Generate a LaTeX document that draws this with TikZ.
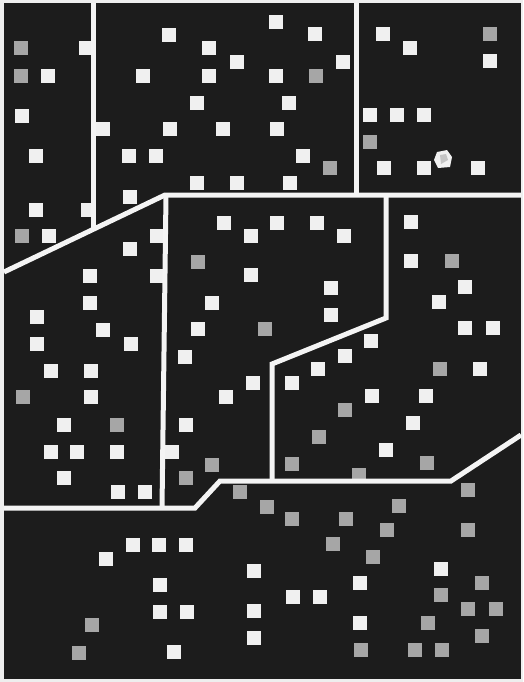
\documentclass[tikz,border=0pt]{standalone}
\definecolor{bgdark}{HTML}{1C1C1C}
\definecolor{paper}{HTML}{EEEEEE}
\definecolor{sqw}{HTML}{F0F0F0}
\definecolor{sqg}{HTML}{A6A6A6}
\definecolor{linew}{HTML}{F4F4F4}
\begin{document}
\begin{tikzpicture}[x=1pt,y=-1pt,
  wsq/.style={fill=sqw,minimum size=13.5pt,inner sep=0pt,draw=none},
  gsq/.style={fill=sqg,minimum size=13.5pt,inner sep=0pt,draw=none},
  wall/.style={draw=linew,line width=5pt,line join=miter}]
\useasboundingbox (0,0) rectangle (523,682);
\fill[paper] (0,0) rectangle (523,682);
\fill[bgdark] (4,3) rectangle (521,679);
% white squares
\foreach \x/\y in {48/76,22/116,36/156,36/210,49/236,86/48,88/210,
  169/35,209/48,237/62,143/76,209/76,197/103,170/129,223/129,129/156,156/156,103/129,
  130/197,197/183,237/183,
  276/22,315/34,343/62,276/76,289/103,277/129,303/156,290/183,
  383/34,410/48,490/61,370/115,397/115,424/115,384/168,424/168,478/168,
  157/236,157/276,130/249,90/276,90/303,37/317,103/330,37/344,131/344,51/371,91/371,
  91/397,64/425,51/452,77/452,117/452,64/478,118/492,145/492,
  224/223,251/236,251/275,212/303,198/329,277/223,317/223,344/236,331/288,331/315,
  185/357,253/383,226/397,186/425,172/452,
  411/222,411/261,465/287,439/302,465/328,493/328,371/341,345/356,318/369,292/383,
  480/369,372/396,426/396,413/423,386/450,
  441/569,360/583,293/597,320/597,360/623,
  133/545,159/545,186/545,106/559,160/585,160/612,187/612,174/652,254/571,254/611,254/638}
  \node[wsq] at (\x,\y) {};
% gray squares
\foreach \x/\y in {21/48,21/76,22/236,316/76,330/168,490/34,370/142,
  23/397,117/425,198/262,265/329,212/465,186/478,
  452/261,440/369,345/410,319/437,292/464,427/463,359/475,
  468/490,267/507,399/506,240/492,292/519,346/519,387/530,468/530,333/544,373/557,
  482/583,441/595,468/609,496/609,428/623,482/636,361/650,415/650,442/650,92/625,79/653}
  \node[gsq] at (\x,\y) {};
% odd blob
\fill[sqw] (437,152) -- (447,150) -- (452,157) -- (450,167) -- (438,168) -- (434,160) -- cycle;
\fill[sqg!60!sqw] (440,155) -- (446,154) -- (448,160) -- (441,164) -- cycle;
% dividing walls
\draw[wall] (93.5,3) -- (93.5,229.5);
\draw[wall] (356,3) -- (356,195);
\draw[wall] (4,272) -- (165,195) -- (521,195);
\draw[wall] (166,195) -- (162,508);
\draw[wall] (386,195) -- (386,318) -- (272,364) -- (272,481);
\draw[wall] (4,508) -- (195,508) -- (220,481) -- (451,481) -- (521,435);
\end{tikzpicture}
\end{document}
